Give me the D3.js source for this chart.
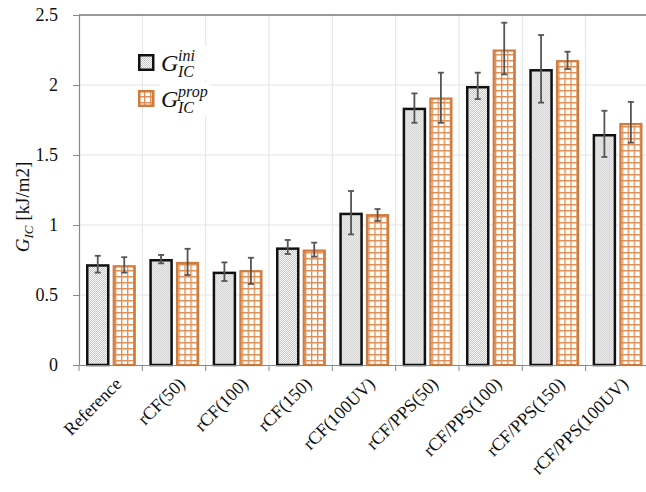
<!DOCTYPE html>
<html>
<head>
<meta charset="utf-8">
<script src="https://cdn.jsdelivr.net/npm/d3@7"></script>
<style>
  body { margin: 0; background: #fff; }
  text { font-family: "Liberation Serif", "Times New Roman", "DejaVu Serif", serif; }
</style>
</head>
<body>
<svg width="646" height="492"></svg>
<script>
// samples on the x axis
let categories = ["Reference", "rCF(50)", "rCF(100)", "rCF(150)", "rCF(100UV)",
    "rCF/PPS(50)", "rCF/PPS(100)", "rCF/PPS(150)", "rCF/PPS(100UV)"];
let series = ["ini", "prop"];

// G_IC values, kJ/m2
let giniValues = [0.72, 0.757, 0.667, 0.84, 1.088, 1.838, 1.993, 2.114, 1.65];
let giniLow    = [0.66, 0.726, 0.60, 0.793, 0.933, 1.73, 1.90, 1.874, 1.486];
let giniHigh   = [0.78, 0.786, 0.733, 0.893, 1.243, 1.94, 2.088, 2.357, 1.816];

let gpropValues = [0.714, 0.738, 0.679, 0.826, 1.079, 1.912, 2.255, 2.179, 1.73];
let gpropLow    = [0.66, 0.643, 0.579, 0.774, 1.029, 1.73, 2.076, 2.114, 1.588];
let gpropHigh   = [0.77, 0.83, 0.766, 0.874, 1.114, 2.088, 2.445, 2.238, 1.879];

let yTicks = [0, 0.5, 1, 1.5, 2, 2.5];
let yTickLabels = ["0", "0.5", "1", "1.5", "2", "2.5"];

let margin = ({top: 15, left: 79, bottom: 365});
let step = 63.33;
let right = margin.left + step * categories.length;

let rows = categories.map((c, i) => ({
    cat: c,
    bars: [
        {key: "ini", value: giniValues[i], lo: giniLow[i], hi: giniHigh[i]},
        {key: "prop", value: gpropValues[i], lo: gpropLow[i], hi: gpropHigh[i]}
    ]
}));

let x = d3.scaleBand(categories, [margin.left, right]);
let x1 = d3.scaleBand(series, [7, 57]).paddingInner(0.113);
let y = d3.scaleLinear([0, 2.5], [margin.bottom, margin.top]);

let svg = d3.select("svg");

let defs = svg.append("defs");
let dots = defs.append("pattern")
    .attr("id", "dots")
    .attr("patternUnits", "userSpaceOnUse")
    .attr("width", 2).attr("height", 2);
dots.append("rect").attr("width", 2).attr("height", 2).attr("fill", "#fcfcfc");
dots.append("rect").attr("width", 1).attr("height", 1).attr("fill", "#c4c4c4");
dots.append("rect").attr("x", 1).attr("y", 1).attr("width", 1).attr("height", 1).attr("fill", "#c4c4c4");

let grid = defs.append("pattern")
    .attr("id", "grid")
    .attr("patternUnits", "userSpaceOnUse")
    .attr("width", 6).attr("height", 6);
grid.append("rect").attr("width", 6).attr("height", 6).attr("fill", "#fff");
grid.append("path")
    .attr("d", "M0,0.7H6M0.7,0V6")
    .attr("stroke", "#dc925a")
    .attr("stroke-width", 1.4);

// gridlines
svg.append("g")
    .attr("stroke", "#e3e3e3")
    .attr("stroke-width", 1)
    .call(g => g.selectAll("line.h")
        .data(yTicks.slice(1, -1))
        .join("line")
        .attr("x1", margin.left).attr("x2", right)
        .attr("y1", d => y(d)).attr("y2", d => y(d)))
    .call(g => g.selectAll("line.v")
        .data(categories.slice(1))
        .join("line")
        .attr("x1", d => x(d)).attr("x2", d => x(d))
        .attr("y1", margin.top).attr("y2", margin.bottom));

// top frame
svg.append("line")
    .attr("x1", margin.left).attr("x2", right)
    .attr("y1", margin.top).attr("y2", margin.top)
    .attr("stroke", "#777").attr("stroke-width", 1.5);

// bars
let group = svg.append("g")
    .selectAll("g")
    .data(rows)
    .join("g")
    .attr("transform", d => `translate(${x(d.cat)},0)`);

group.selectAll("rect")
    .data(d => d.bars)
    .join("rect")
    .attr("x", d => x1(d.key) + 1.25)
    .attr("width", x1.bandwidth() - 2.5)
    .attr("y", d => y(d.value) + 1.25)
    .attr("height", d => y(0) - y(d.value) - 1.25)
    .attr("fill", d => d.key === "ini" ? "url(#dots)" : "url(#grid)")
    .attr("stroke", d => d.key === "ini" ? "#111" : "#d07a3c")
    .attr("stroke-width", d => d.key === "ini" ? 2.5 : 2.2);

// error bars
let err = group.selectAll("g.err")
    .data(d => d.bars)
    .join("g")
    .attr("stroke", "#555")
    .attr("stroke-width", 1.8)
    .attr("transform", d => `translate(${x1(d.key) + x1.bandwidth() / 2},0)`);
err.append("line").attr("y1", d => y(d.lo)).attr("y2", d => y(d.hi));
err.append("line").attr("x1", -3).attr("x2", 3).attr("y1", d => y(d.lo)).attr("y2", d => y(d.lo));
err.append("line").attr("x1", -3).attr("x2", 3).attr("y1", d => y(d.hi)).attr("y2", d => y(d.hi));

// axes
let yAxis = svg.append("g")
    .attr("transform", `translate(${margin.left},0)`)
    .call(d3.axisLeft(y).tickValues(yTicks).tickFormat((d, i) => yTickLabels[i]).tickSize(6).tickPadding(15));
yAxis.select(".domain").attr("stroke", "#888").attr("stroke-width", 1.2);
yAxis.selectAll(".tick line").attr("stroke", "#888");
yAxis.selectAll(".tick text").attr("font-size", 18).attr("fill", "#111");

let xAxis = svg.append("g")
    .attr("transform", `translate(0,${margin.bottom})`)
    .call(d3.axisBottom(x).tickSize(0).tickFormat(""));
xAxis.select(".domain").attr("stroke", "#888").attr("stroke-width", 1.2);
xAxis.append("g")
    .selectAll("line")
    .data(categories.concat(["end"]))
    .join("line")
    .attr("x1", (d, i) => margin.left + i * step)
    .attr("x2", (d, i) => margin.left + i * step)
    .attr("y1", 0).attr("y2", 6)
    .attr("stroke", "#888");

svg.append("g")
    .selectAll("text")
    .data(categories)
    .join("text")
    .attr("transform", d => `translate(${x(d) + x.bandwidth() / 2 + 12},${margin.bottom + 20}) rotate(-45)`)
    .attr("text-anchor", "end")
    .attr("font-size", 18)
    .attr("fill", "#111")
    .text(d => d);

// y axis title
let title = svg.append("text")
    .attr("transform", `translate(29,207) rotate(-90)`)
    .attr("text-anchor", "middle")
    .attr("font-size", 19)
    .attr("fill", "#111");
title.append("tspan").attr("font-style", "italic").text("G");
title.append("tspan").attr("font-style", "italic").attr("font-size", 13).attr("dy", 4).text("IC");
title.append("tspan").attr("dy", -4).text(" [kJ/m2]");

// legend
let legend = svg.append("g")
    .selectAll("g")
    .data(series)
    .join("g")
    .attr("transform", (d, i) => `translate(138,${54 + i * 36})`);
legend.append("rect")
    .attr("x", 22).attr("y", -8).attr("width", 50).attr("height", 34)
    .attr("fill", "#fff");
legend.append("rect")
    .attr("x", 1.25).attr("y", 1.25).attr("width", 14).attr("height", 14.5)
    .attr("fill", d => d === "ini" ? "url(#dots)" : "url(#grid)")
    .attr("stroke", d => d === "ini" ? "#111" : "#d07a3c")
    .attr("stroke-width", 2.5);
legend.append("text")
    .attr("x", 23).attr("y", 17)
    .attr("font-size", 24)
    .attr("font-style", "italic")
    .attr("fill", "#111")
    .text("G");
legend.append("text")
    .attr("x", 40).attr("y", 7)
    .attr("font-size", 16)
    .attr("font-style", "italic")
    .attr("fill", "#111")
    .text(d => d);
legend.append("text")
    .attr("x", 40).attr("y", 23)
    .attr("font-size", 16)
    .attr("font-style", "italic")
    .attr("fill", "#111")
    .text("IC");
</script>
</body>
</html>
